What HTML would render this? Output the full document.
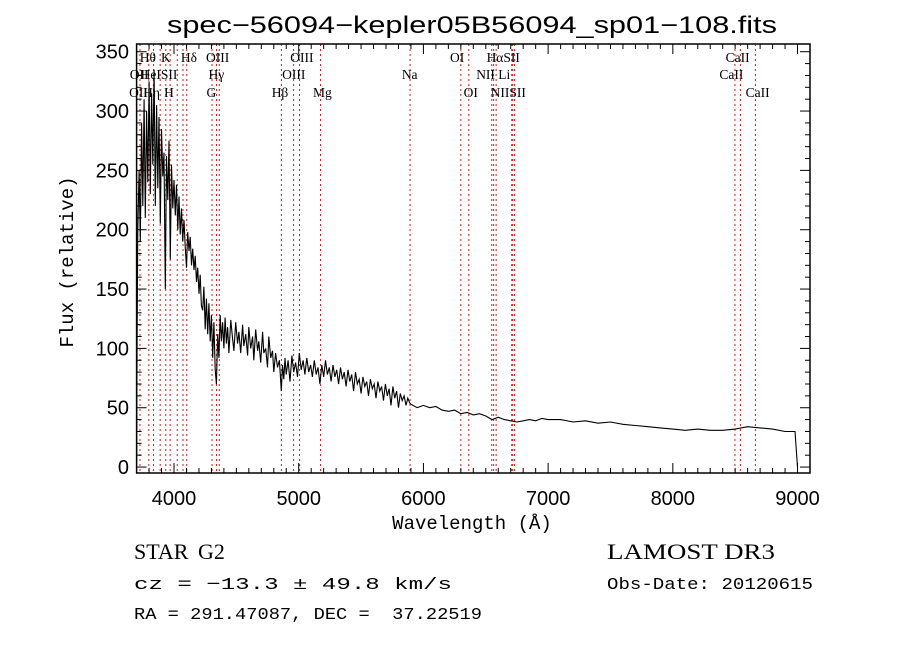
<!DOCTYPE html>
<html><head><meta charset="utf-8"><style>
html,body{margin:0;padding:0;background:#fff;}
svg{display:block;}
</style></head><body>
<svg id="chart" width="900" height="649" viewBox="0 0 900 649" xmlns="http://www.w3.org/2000/svg">
<rect x="0" y="0" width="900" height="649" fill="#fff"/>
<text x="167" y="33" textLength="610" lengthAdjust="spacingAndGlyphs" font-family="Liberation Sans, sans-serif" font-size="24">spec−56094−kepler05B56094_sp01−108.fits</text>
<g id="lines"></g>
<g id="labels"></g>
<path id="spec" fill="none" stroke="#000" stroke-width="1.1"/>
<g id="axes"></g>
<text x="472" y="529" text-anchor="middle" font-family="Liberation Mono, monospace" font-size="19">Wavelength (Å)</text>
<text transform="translate(73,262) rotate(-90)" text-anchor="middle" font-family="Liberation Mono, monospace" font-size="19">Flux (relative)</text>
<text x="134" y="559" font-family="Liberation Serif, serif" font-size="22">STAR</text>
<text x="198" y="559" font-family="Liberation Serif, serif" font-size="22">G2</text>
<text x="607" y="559" textLength="168" lengthAdjust="spacingAndGlyphs" font-family="Liberation Serif, serif" font-size="22">LAMOST DR3</text>
<text x="134" y="589" textLength="318" lengthAdjust="spacingAndGlyphs" font-family="Liberation Mono, monospace" font-size="17">cz = −13.3 ± 49.8 km/s</text>
<text x="607" y="589" textLength="206" lengthAdjust="spacingAndGlyphs" font-family="Liberation Mono, monospace" font-size="17">Obs-Date: 20120615</text>
<text x="134" y="619" textLength="348" lengthAdjust="spacingAndGlyphs" font-family="Liberation Mono, monospace" font-size="17">RA = 291.47087, DEC = &#160;37.22519</text>
</svg>
<script>
const wave = [3700,3705,3710,3720,3730,3740,3750,3760,3770,3780,3790,3800,3810,3820,3830,3840,3850,3860,3870,3880,3890,3900,3910,3920,3930,3940,3950,3960,3970,3980,3990,4000,4010,4020,4030,4040,4050,4060,4070,4080,4090,4100,4110,4120,4130,4140,4150,4160,4170,4180,4190,4200,4210,4220,4230,4240,4250,4260,4270,4280,4290,4300,4310,4320,4330,4340,4350,4360,4370,4380,4390,4400,4410,4420,4430,4440,4455,4470,4480,4495,4510,4520,4535,4550,4560,4575,4590,4600,4615,4630,4640,4655,4670,4680,4695,4710,4720,4735,4750,4760,4775,4790,4800,4815,4830,4845,4860,4870,4880,4890,4900,4915,4930,4945,4960,4975,4990,5005,5020,5035,5050,5065,5080,5095,5110,5125,5140,5155,5170,5185,5200,5215,5230,5245,5260,5275,5290,5305,5320,5335,5350,5365,5380,5395,5410,5425,5440,5455,5470,5485,5500,5515,5530,5545,5560,5575,5590,5605,5620,5635,5650,5665,5680,5695,5710,5725,5740,5755,5770,5785,5800,5815,5830,5845,5860,5875,5890,5900,5950,6000,6050,6100,6150,6200,6250,6300,6350,6400,6450,6500,6550,6600,6650,6700,6750,6800,6850,6900,6950,7000,7100,7200,7300,7400,7500,7600,7700,7800,7900,8000,8100,8200,8300,8400,8500,8600,8700,8800,8900,8980,9000];
const flux = [5,120,200,250,190,290,220,310,210,300,240,325,230,315,255,335,220,305,235,295,205,285,245,265,150,262,225,275,175,255,218,242,212,238,200,228,196,218,190,208,186,168,198,182,194,170,184,166,178,156,168,146,162,136,132,152,116,142,112,138,106,128,92,122,82,70,112,92,128,106,122,100,126,104,118,96,124,108,98,122,104,114,96,120,102,112,94,118,100,110,90,116,98,106,88,114,96,100,84,110,92,98,80,96,84,90,64,86,74,92,78,90,72,94,80,88,76,96,82,90,78,92,80,86,76,90,78,84,70,86,76,90,78,84,72,86,76,82,70,84,74,80,68,82,72,78,64,80,70,74,62,76,68,72,60,74,66,70,58,72,64,68,56,70,60,66,52,68,58,64,50,62,56,60,52,58,54,53,50,52,50,51,48,47,48,45,46,44,45,43,40,42,40,39,38,39,40,39,41,40,40,38,39,37,38,36,35,34,33,32,31,32,31,31,32,34,33,32,30,30,0];
const lineWaves = [3727,3798,3835,3889,3934,3969,4026,4072,4102,4305,4341,4363,4861,4959,5007,5175,5893,6300,6364,6548,6563,6583,6708,6716,6731,8498,8542,8662];
const labelText = ["Hθ","K","Hδ","OIII","OIII","OI","HαSII","CaII","OII","HeISII","Hγ","OIII","Na","NII Li","CaII","OII","Hη","H","G","Hβ","Mg","OI","NIISII","CaII"];
const labelWave = [3790,3935,4120,4350,5025,6270,6640,8520,3720,3880,4340,4960,5890,6560,8470,3715,3820,3960,4300,4850,5190,6380,6680,8680];
const labelRow = [0,0,0,0,0,0,0,0,1,1,1,1,1,1,1,2,2,2,2,2,2,2,2,2];
const xTicks = [4000,5000,6000,7000,8000,9000];
const yTicks = [0,50,100,150,200,250,300,350];

const X0=136.6,X1=810,W0=3700,W1=9100;
const Y0=473,Y1=44,F0=-5,F1=356.5;
const sx = w => X0 + (w-W0)/(W1-W0)*(X1-X0);
const sy = f => Y0 - (f-F0)/(F1-F0)*(Y0-Y1);
const NS="http://www.w3.org/2000/svg";
function mk(tag,attrs,parent){const e=document.createElementNS(NS,tag);for(const k in attrs)e.setAttribute(k,attrs[k]);parent.appendChild(e);return e;}

const lg=document.getElementById('lines');
lineWaves.forEach(w=>{
  const l=mk('line',{x1:sx(w),x2:sx(w),y1:Y1,y2:Y0,stroke:'#c02020','stroke-width':1,'stroke-dasharray':'2,3'},lg);
  
  
});
const lb=document.getElementById('labels');
const rowY=[62,79,97];
labelText.forEach((t,i)=>{
  const e=mk('text',{x:sx(labelWave[i]),y:rowY[labelRow[i]],'text-anchor':'middle','font-family':'Liberation Serif, serif','font-size':13.5},lb);
  e.textContent=t;
  
  
});

let d='';
wave.forEach((w,i)=>{d+=(i?'L':'M')+sx(w).toFixed(1)+','+sy(flux[i]).toFixed(1);});
document.getElementById('spec').setAttribute('d',d);

const ax=document.getElementById('axes');
const fr=mk('rect',{x:X0,y:Y1,width:X1-X0,height:Y0-Y1,fill:'none',stroke:'#000','stroke-width':1.5},ax);


for(let w=3800;w<=9100;w+=100){
  const len=(w%1000===0)?10:5;
  mk('line',{x1:sx(w),x2:sx(w),y1:Y0,y2:Y0-len,stroke:'#000'},ax);
  mk('line',{x1:sx(w),x2:sx(w),y1:Y1,y2:Y1+len,stroke:'#000'},ax);
}
for(let f=0;f<=350;f+=10){
  const len=(f%50===0)?10:5;
  mk('line',{x1:X0,x2:X0+len,y1:sy(f),y2:sy(f),stroke:'#000'},ax);
  mk('line',{x1:X1,x2:X1-len,y1:sy(f),y2:sy(f),stroke:'#000'},ax);
}
xTicks.forEach(w=>{
  const e=mk('text',{x:sx(w),y:505,'text-anchor':'middle','font-family':'Liberation Sans, sans-serif','font-size':20},ax);
  e.textContent=w;
  
  
});
yTicks.forEach(f=>{
  const e=mk('text',{x:129,y:sy(f)+7,'text-anchor':'end','font-family':'Liberation Sans, sans-serif','font-size':20},ax);
  e.textContent=f;
  
  
});
</script>
</body></html>
